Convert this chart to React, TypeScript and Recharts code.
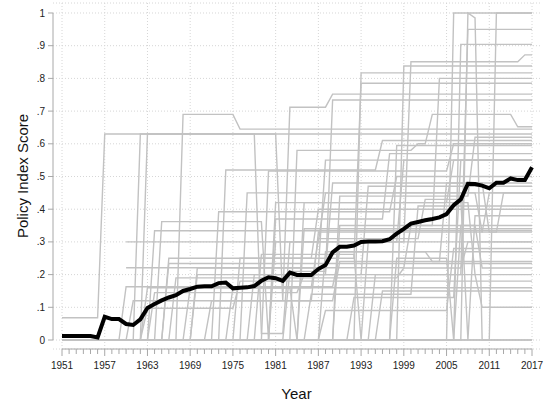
import React from 'react';
import { LineChart, Line, XAxis, YAxis, CartesianGrid, ReferenceLine } from 'recharts';

// Years on the x axis
const firstYear = 1951;
const lastYear = 2017;
const years: number[] = Array.from({ length: lastYear - firstYear + 1 }, (_, i) => firstYear + i);
const majorYears = [1951, 1957, 1963, 1969, 1975, 1981, 1987, 1993, 1999, 2005, 2011, 2017];
const yTicks = [0, 0.1, 0.2, 0.3, 0.4, 0.5, 0.6, 0.7, 0.8, 0.9, 1];

// Average policy index (thick black line), 1951..2017
const meanScore = [
  0.012, 0.012, 0.012, 0.012, 0.012, 0.008, 0.071, 0.064, 0.064, 0.049,
  0.046, 0.063, 0.098, 0.110, 0.121, 0.130, 0.137, 0.150, 0.156, 0.163,
  0.164, 0.164, 0.174, 0.176, 0.158, 0.160, 0.161, 0.165, 0.181, 0.192,
  0.189, 0.181, 0.206, 0.199, 0.199, 0.199, 0.217, 0.229, 0.268, 0.285,
  0.285, 0.289, 0.300, 0.301, 0.301, 0.302, 0.308, 0.325, 0.340, 0.356,
  0.361, 0.366, 0.370, 0.375, 0.385, 0.412, 0.430, 0.478, 0.477, 0.472,
  0.464, 0.481, 0.481, 0.494, 0.489, 0.489, 0.528,
];

// Individual country series (grey): [year the score changes, new score]
const countryA = [[1951, 0.068], [1957, 0.63]];
const countryB = [[1951, 0], [1962, 0.63], [1979, 0.02], [1983, 0.3], [1999, 0.55]];
const countryC = [[1951, 0], [1963, 0.63], [1982, 0.12], [1983, 0.712], [1989, 0.752]];
const countryD = [[1951, 0], [1968, 0.69], [1976, 0.645]];
const countryE = [[1951, 0], [1970, 0.2], [1989, 0.734]];
const countryF = [[1951, 0], [1993, 0.817]];
const countryG = [[1951, 0], [1976, 0.25], [1993, 0.785]];
const countryH = [[1951, 0], [1999, 0.838]];
const countryI = [[1951, 0], [1981, 0.3], [2000, 0.851], [2016, 0.872]];
const countryJ = [[1951, 0], [1990, 0.35], [2004, 0.8]];
const countryK = [[1951, 0], [2006, 1.0]];
const countryL = [[1951, 0], [2008, 1.0], [2009, 0.985], [2010, 0.0]];
const countryM = [[1951, 0], [2007, 0.904]];
const countryN = [[1951, 0], [1995, 0.2], [2008, 0.95]];
const countryO = [[1951, 0], [2012, 1.0]];
const countryP = [[1951, 0], [1984, 0.58], [2001, 0.6], [2003, 0.69], [2015, 0.652]];
const countryQ = [[1960, 0.3], [1988, 0.45]];
const countryR = [[1960, 0.221], [2000, 0.35], [2010, 0.22]];
const countryS = [[1951, 0], [1960, 0.163], [1990, 0.27]];
const countryT = [[1951, 0], [1965, 0.362], [1980, 0.0], [1981, 0.42], [2006, 0.55]];
const countryU = [[1951, 0], [1964, 0.334]];
const countryV = [[1951, 0], [1973, 0.392], [1998, 0.5]];
const countryW = [[1951, 0], [1980, 0.517], [2006, 0.6]];
const countryX = [[1951, 0], [1966, 0.234]];
const countryY = [[1951, 0], [1966, 0.25], [1987, 0.4]];
const countryZ = [[1951, 0], [1979, 0.262], [1993, 0.0], [1994, 0.3]];
const countryAA = [[1951, 0], [1964, 0.145], [1985, 0.2]];
const countryAB = [[1951, 0], [1963, 0.097], [1976, 0.18]];
const countryAC = [[1951, 0], [1961, 0.12], [1990, 0.24]];
const countryAD = [[1951, 0], [1967, 0.19], [1999, 0.22], [2008, 0.3]];
const countryAE = [[1951, 0], [1970, 0.22], [1988, 0.55]];
const countryAF = [[1951, 0], [1972, 0.12], [1987, 0.33], [2011, 0.45]];
const countryAG = [[1951, 0], [1975, 0.16]];
const countryAH = [[1951, 0], [1978, 0.2], [1994, 0.47]];
const countryAI = [[1951, 0], [1981, 0.37], [1997, 0.57]];
const countryAJ = [[1951, 0], [1986, 0.14], [2001, 0.41]];
const countryAK = [[1951, 0]];
const countryAL = [[1951, 0], [1988, 0.27], [2003, 0.24], [2005, 0.48]];
const countryAM = [[1951, 0], [1990, 0.44], [2009, 0.62]];
const countryAN = [[1951, 0], [1992, 0.13], [2007, 0.55]];
const countryAO = [[1951, 0], [1996, 0.15]];
const countryAP = [[1951, 0], [1969, 0.16], [1984, 0.0], [1985, 0.34]];
const countryAQ = [[1951, 0], [1974, 0.52], [1996, 0.61]];
const countryAR = [[1951, 0], [1985, 0.42], [2009, 0.2], [2010, 0.1]];
const countryAS = [[1951, 0], [1977, 0.45], [2010, 0.33], [2013, 0.45]];
const countryAT = [[1951, 0], [1998, 0.25], [2006, 0.0], [2007, 0.35]];
const countryAU = [[1951, 0], [1988, 0.09], [2006, 0.28]];
const countryAV = [[1951, 0], [1963, 0.16], [1987, 0.31], [2002, 0.43], [2008, 0.0], [2009, 0.38]];
const countryAW = [[1951, 0], [1983, 0.21], [1989, 0.48], [2011, 0.33]];
const countryAX = [[1951, 0], [1997, 0.0], [1998, 0.595]];

const countries = [
  countryA, countryB, countryC, countryD, countryE, countryF, countryG, countryH,
  countryI, countryJ, countryK, countryL, countryM, countryN, countryO, countryP,
  countryQ, countryR, countryS, countryT, countryU, countryV, countryW, countryX,
  countryY, countryZ, countryAA, countryAB, countryAC, countryAD, countryAE, countryAF,
  countryAG, countryAH, countryAI, countryAJ, countryAK, countryAL, countryAM, countryAN,
  countryAO, countryAP, countryAQ, countryAR, countryAS, countryAT, countryAU, countryAV,
  countryAW, countryAX,
];

// score in force in a given year (held until the next change)
const scoreIn = (changes: number[][], year: number): number | null => {
  let v: number | null = null;
  for (const [y, s] of changes) if (y <= year) v = s;
  return v;
};

const data = years.map((year, i) => {
  const row: Record<string, number | null> = { year, mean: meanScore[i] };
  countries.forEach((c, k) => { row['c' + k] = scoreIn(c, year); });
  return row;
});

const X_MIN = 1949.736;
const X_MAX = 2018.123;
const Y_MIN = -0.02752;
const Y_MAX = 1.03058;

const axisColor = '#a8a8a8';
const gridColor = '#d6d6d6';
const greyLine = '#c2c2c2';
const FONT = '"Liberation Sans", Arial, Helvetica, sans-serif';

const YearTick = (props: any) => {
  const { x, y, payload } = props;
  const major = majorYears.includes(payload.value);
  return (
    <g>
      <line x1={x} x2={x} y1={y} y2={y + (major ? 7 : 5)} stroke={axisColor} strokeWidth={1} />
      {major && (
        <text x={x} y={y + 20} textAnchor="middle" fontSize={10} fill="#222" fontFamily={FONT}>
          {payload.value}
        </text>
      )}
    </g>
  );
};

const YTitle = (props: any) => {
  const vb = props.viewBox || { y: 3, height: 346 };
  const cy = vb.y + vb.height / 2;
  return (
    <text x={22} y={cy} transform={`rotate(-90, 22, ${cy})`} textAnchor="middle" dominantBaseline="central" fontSize={15} fill="#111" fontFamily={FONT}>
      Policy Index Score
    </text>
  );
};

const XTitle = (props: any) => {
  const vb = props.viewBox || { x: 53, y: 349, width: 487 };
  const cx = vb.x + vb.width / 2;
  return (
    <text x={cx} y={vb.y + 44} textAnchor="middle" dominantBaseline="central" fontSize={15} fill="#111" fontFamily={FONT}>
      Year
    </text>
  );
};

const fmtY = (v: number) => (v === 0 ? '0' : v === 1 ? '1' : '.' + Math.round(v * 10));

export default function App() {
  return (
    <div style={{ position: 'absolute', left: 0, top: 0, background: '#fff' }}>
      <LineChart width={549} height={407} data={data} margin={{ top: 3, right: 9, bottom: 0, left: 0 }}>
        <CartesianGrid vertical={false} stroke={gridColor} strokeDasharray="1 2" />
        {majorYears.map((y) => (
          <ReferenceLine key={'g' + y} x={y} stroke={gridColor} strokeDasharray="1 2" />
        ))}
        <XAxis
          dataKey="year"
          type="number"
          domain={[X_MIN, X_MAX]}
          ticks={years}
          interval={0}
          tick={<YearTick />}
          tickLine={false}
          axisLine={false}
          tickSize={0}
          tickMargin={0}
          height={58}
          allowDataOverflow
          label={<XTitle />}
        />
        <YAxis
          type="number"
          domain={[Y_MIN, Y_MAX]}
          ticks={yTicks}
          interval={0}
          tickFormatter={fmtY}
          axisLine={false}
          tickLine={{ stroke: axisColor }}
          tickSize={5}
          tickMargin={3}
          width={53}
          allowDataOverflow
          tick={{ fontSize: 10, fill: '#222', fontFamily: FONT }}
          label={<YTitle />}
        />
        <ReferenceLine
          segment={[{ x: X_MIN, y: 0 }, { x: X_MIN, y: 1 }]}
          stroke={axisColor}
          ifOverflow="visible"
        />
        <ReferenceLine
          segment={[{ x: firstYear, y: Y_MIN }, { x: lastYear, y: Y_MIN }]}
          stroke={axisColor}
          ifOverflow="visible"
        />
        {countries.map((_, k) => (
          <Line
            key={'c' + k}
            dataKey={'c' + k}
            type="linear"
            stroke={greyLine}
            strokeWidth={1.4}
            dot={false}
            activeDot={false}
            isAnimationActive={false}
            connectNulls={false}
          />
        ))}
        <Line
          dataKey="mean"
          type="linear"
          stroke="#000"
          strokeWidth={4}
          dot={false}
          activeDot={false}
          isAnimationActive={false}
        />
      </LineChart>
    </div>
  );
}
